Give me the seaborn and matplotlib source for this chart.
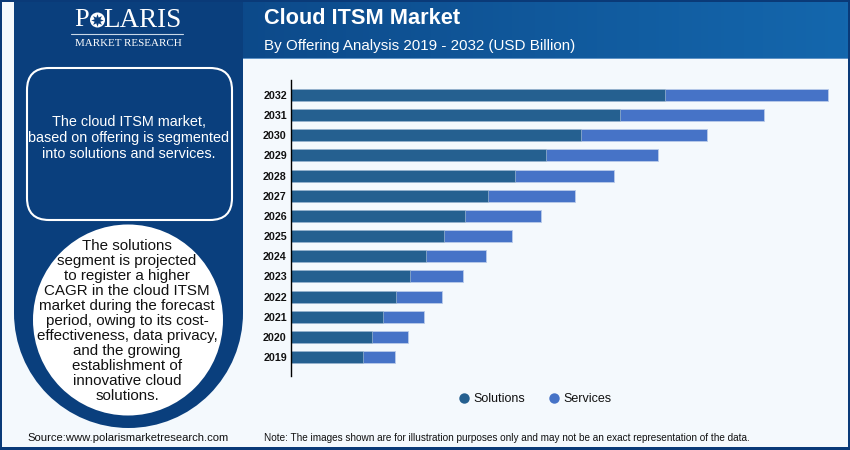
import numpy as np
import pandas as pd
import matplotlib
matplotlib.use("Agg")
import matplotlib.pyplot as plt
from matplotlib.colors import LinearSegmentedColormap
from matplotlib.patches import Circle, Ellipse, FancyBboxPatch, Rectangle
import seaborn as sns

years = [2032, 2031, 2030, 2029, 2028, 2027, 2026, 2025, 2024, 2023, 2022, 2021, 2020, 2019]
solutions = [7.48, 6.58, 5.80, 5.10, 4.48, 3.94, 3.48, 3.06, 2.70, 2.38, 2.10, 1.84, 1.62, 1.44]
services = [3.26, 2.88, 2.52, 2.24, 1.98, 1.74, 1.52, 1.36, 1.20, 1.06, 0.92, 0.82, 0.72, 0.64]
series_names = ["Solutions", "Services"]

DARK = "#0a3f7d"
PAGE = "#f4f9fd"
COL_SOL = "#256090"
COL_SER = "#4673c7"

sns.set_theme(style="white")
plt.rcParams["font.family"] = ["Liberation Sans", "DejaVu Sans"]

fig = plt.figure(figsize=(8.5, 4.5), dpi=100, facecolor=PAGE)

# background layer in pixel coordinates
bg = fig.add_axes([0, 0, 1, 1])
bg.axis("off")

grad = LinearSegmentedColormap.from_list("hdr", [DARK, "#1467ad"])
bg.imshow(np.linspace(0, 1, 256).reshape(1, -1), cmap=grad, extent=(14, 848, 58, 2), aspect="auto", zorder=1)
bg.set_xlim(0, 850)
bg.set_ylim(450, 0)

bg.add_patch(Rectangle((14, 2), 229, 311, fc=DARK, ec="none", zorder=2))
bg.add_patch(Ellipse((128.5, 313), 229, 230, fc=DARK, ec="none", zorder=2))
bg.add_patch(Rectangle((243, 58), 605, 1, fc="#5f93c6", ec="none", zorder=2))

# frame
bg.add_patch(Rectangle((0, 0), 850, 2, fc="#0a3a78", ec="none", zorder=5))
bg.add_patch(Rectangle((0, 447), 850, 3, fc="#0a3a78", ec="none", zorder=5))
bg.add_patch(Rectangle((0, 0), 2, 450, fc="#0a3a78", ec="none", zorder=5))
bg.add_patch(Rectangle((848, 0), 2, 450, fc="#0a3a78", ec="none", zorder=5))

# logo
bg.text(74, 20.5, "P", color="white", fontsize=19, family="Liberation Serif", ha="left", va="center", zorder=6)
bg.text(182, 20.5, "LARIS", color="white", fontsize=19.5, family="Liberation Serif", ha="right", va="center", zorder=6)
bg.add_patch(Circle((97.5, 20), 7.5, fc="white", ec="none", zorder=6))
bg.plot([97.5], [20], marker=(8, 1, 0), ms=9, color=DARK, mew=0, zorder=7)
bg.plot([71, 183], [34, 34], color="#c9d8e8", lw=0.8, zorder=6)
bg.text(128, 44, "MARKET RESEARCH", color="white", fontsize=7.9, family="Liberation Serif", ha="center", va="center", zorder=6)

# header
bg.text(264, 19, "Cloud ITSM Market", color="white", fontsize=15.7, fontweight="bold", ha="left", va="center", zorder=6)
bg.text(264, 46, "By Offering Analysis 2019 - 2032 (USD Billion)", color="white", fontsize=10.9, ha="left", va="center", zorder=6)

# left panel
bg.add_patch(FancyBboxPatch((27, 68), 205, 152, boxstyle="round,pad=0,rounding_size=22", fc=DARK, ec="white", lw=1.5, zorder=3))
bg.text(129, 138, "The cloud ITSM market,\nbased on offering is segmented\ninto solutions and services.", color="white",
        fontsize=10.4, ha="center", va="center", linespacing=1.17, zorder=6)
bg.add_patch(Ellipse((128, 320), 190, 191, fc="white", ec="none", zorder=3))
bg.text(127, 321, "The solutions\nsegment is projected\nto register a higher\nCAGR in the cloud ITSM\nmarket during the forecast\nperiod, owing to its cost-\neffectiveness, data privacy,\nand the growing\nestablishment of\ninnovative cloud\nsolutions.",
        color="#111111", fontsize=10.9, ha="center", va="center", linespacing=1.09, zorder=6)

# footer
bg.text(128, 438, "Source:www.polarismarketresearch.com", color="#111111", fontsize=8.1, ha="center", va="center", zorder=6)
bg.text(264, 438, "Note: The images shown are for illustration purposes only and may not be an exact representation of the data.",
        color="#111111", fontsize=7.2, ha="left", va="center", zorder=6)

# chart, stacked by drawing the totals behind the solutions
df = pd.DataFrame({"year": [str(y) for y in years], "Solutions": solutions, "Services": services})
df["total"] = df["Solutions"] + df["Services"]

ax = fig.add_axes([291 / 850, 1 - 376 / 450, 557 / 850, 296 / 450])
ax.patch.set_alpha(0)
sns.barplot(data=df, y="year", x="total", color=COL_SER, saturation=1, width=0.6, edgecolor="#b9cbea", linewidth=0.6, ax=ax)
sns.barplot(data=df, y="year", x="Solutions", color=COL_SOL, saturation=1, width=0.6, edgecolor="#b5c9da", linewidth=0.4, ax=ax)
ax.set_xlim(0, 557 / 50)
ax.set_ylim(len(years) - 1 + 0.94, -0.74)
ax.set_xlabel("")
ax.set_ylabel("")
ax.set_xticks([])
ax.tick_params(axis="y", length=0, pad=3)
for lab in ax.get_yticklabels():
    lab.set_fontsize(7.7)
    lab.set_fontweight("bold")
    lab.set_color("#111111")
sns.despine(ax=ax, bottom=True)
ax.spines["left"].set_color("black")
ax.spines["left"].set_linewidth(1)

# legend
h = [plt.Line2D([], [], ls="", marker="o", ms=7.5, mew=0, color=c) for c in (COL_SOL, COL_SER)]
fig.legend(h, series_names, loc="center", bbox_to_anchor=(534.5 / 850, 1 - 399 / 450), ncol=2, frameon=False,
           fontsize=9, handlelength=1, handletextpad=0.24, columnspacing=1.8, labelcolor="#111111")

fig.savefig("out.png", dpi=100, facecolor=PAGE)
